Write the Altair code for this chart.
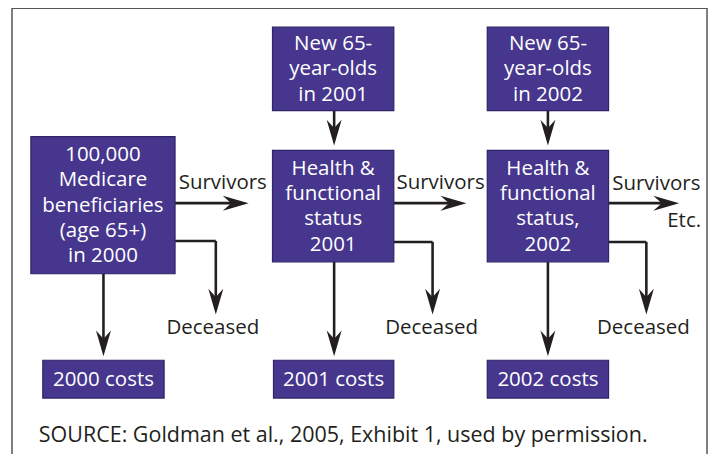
import altair as alt
import pandas as pd

# ---- diagram content -------------------------------------------------------
box_text = [
    ["100,000", "Medicare", "beneficiaries", "(age 65+)", "in 2000"],
    ["New 65-", "year-olds", "in 2001"],
    ["Health &", "functional", "status", "2001"],
    ["New 65-", "year-olds", "in 2002"],
    ["Health &", "functional", "status,", "2002"],
    ["2000 costs"],
    ["2001 costs"],
    ["2002 costs"],
]
box_x0 = [31, 274, 274, 490, 490, 43, 275, 490]
box_x1 = [176, 396, 396, 612, 612, 165, 396, 612]
box_y0 = [136, 26, 150, 26, 150, 361, 361, 361]
box_y1 = [274, 110, 262, 110, 262, 399, 399, 399]
LINE_STEP = 25.5

# connector segments
seg_x0 = [176, 396, 612, 336, 551, 176, 217, 396, 435, 612, 650, 104, 336, 551]
seg_y0 = [203, 203, 203, 110, 110, 241, 241, 242, 242, 242, 242, 274, 262, 262]
seg_x1 = [240, 460, 673, 336, 551, 217, 217, 435, 435, 650, 650, 104, 336, 551]
seg_y1 = [203, 203, 203, 138, 138, 241, 305, 242, 305, 242, 305, 348, 348, 348]

# arrow heads (centre of head)
down_x = [336, 551, 217, 435, 650, 104, 336, 551]
down_y = [132, 132, 302, 302, 302, 344, 344, 344]
right_x = [237, 456, 670]
right_y = [203, 203, 203]

label_text = ["Survivors", "Survivors", "Survivors", "Deceased", "Deceased", "Deceased", "Etc."]
label_x = [224, 443, 660, 214, 434, 647, 688]
label_y = [182.5, 182.5, 183.5, 328.5, 328.5, 328.5, 220.5]

source_text = ["SOURCE: Goldman et al., 2005, Exhibit 1, used by permission."]
source_x = [39]
source_y = [437.5]

frame_x0, frame_x1, frame_y0, frame_y1 = [12], [711], [7], [480]

# ---- styling ---------------------------------------------------------------
FONT = "Open Sans"
FS = 20.6
PURPLE = "#46368e"
INK = "#231f20"
W, H = 705, 446
xs = alt.Scale(domain=[8, 8 + W], nice=False, zero=False)
ys = alt.Scale(domain=[8, 8 + H], nice=False, zero=False, reverse=True)

def X(f):
    return alt.X(f, type="quantitative", scale=xs, axis=None)

def Y(f):
    return alt.Y(f, type="quantitative", scale=ys, axis=None)

frame = alt.Chart(pd.DataFrame({"x0": frame_x0, "x1": frame_x1, "y0": frame_y0, "y1": frame_y1})).mark_rect(
    fill=None, stroke="#555555", strokeWidth=1.5
).encode(x=X("x0"), x2="x1", y=Y("y0"), y2="y1")

boxes_df = pd.DataFrame({"x0": box_x0, "x1": box_x1, "y0": box_y0, "y1": box_y1})

rows = []
for i, lines in enumerate(box_text):
    cx = (box_x0[i] + box_x1[i]) / 2
    cy = (box_y0[i] + box_y1[i]) / 2 + 0.5
    n = len(lines)
    for j, t in enumerate(lines):
        rows.append({"cx": cx, "cy": cy + (j - (n - 1) / 2) * LINE_STEP, "t": t})
lines_df = pd.DataFrame(rows)

boxes = alt.Chart(boxes_df).mark_rect(
    fill=PURPLE, stroke="#2e2466", strokeWidth=1.2
).encode(x=X("x0"), x2="x1", y=Y("y0"), y2="y1")

box_labels = alt.Chart(lines_df).mark_text(
    font=FONT, fontSize=FS, color="white", align="center", baseline="middle"
).encode(x=X("cx"), y=Y("cy"), text="t:N")

segs = alt.Chart(pd.DataFrame({"x0": seg_x0, "y0": seg_y0, "x1": seg_x1, "y1": seg_y1})).mark_rule(
    color=INK, strokeWidth=2.6
).encode(x=X("x0"), y=Y("y0"), x2="x1", y2="y1")

DOWN = "M0,1 L-0.58,-1 L0,-0.35 L0.58,-1 Z"
RIGHT = "M1,0 L-1,-0.58 L-0.35,0 L-1,0.58 Z"

heads_down = alt.Chart(pd.DataFrame({"x": down_x, "y": down_y})).mark_point(
    shape=DOWN, filled=True, size=676, color=INK, opacity=1
).encode(x=X("x"), y=Y("y"))

heads_right = alt.Chart(pd.DataFrame({"x": right_x, "y": right_y})).mark_point(
    shape=RIGHT, filled=True, size=676, color=INK, opacity=1
).encode(x=X("x"), y=Y("y"))

labels = alt.Chart(pd.DataFrame({"x": label_x, "y": label_y, "t": label_text})).mark_text(
    font=FONT, fontSize=FS, color=INK, align="center", baseline="middle"
).encode(x=X("x"), y=Y("y"), text="t:N")

source = alt.Chart(pd.DataFrame({"x": source_x, "y": source_y, "t": source_text})).mark_text(
    font=FONT, fontSize=21.6, color=INK, align="left", baseline="middle"
).encode(x=X("x"), y=Y("y"), text="t:N")

chart = alt.layer(
    frame, segs, heads_down, heads_right, boxes, box_labels, labels, source
).properties(
    width=W, height=H, padding=0, autosize=alt.AutoSizeParams(type="none")
).configure_view(stroke=None)

chart.save("out.html", embed_options={"renderer": "svg", "actions": False})
